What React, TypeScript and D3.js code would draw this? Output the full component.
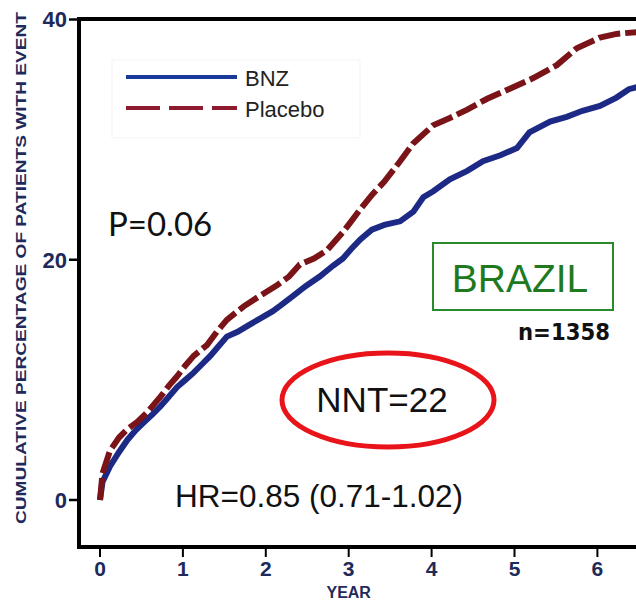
import React from "react";
import * as d3 from "d3";

const bnzYears = [0, 0.03, 0.12, 0.23, 0.33, 0.43, 0.52, 0.63, 0.73, 0.83, 0.93, 1.03, 1.13, 1.23, 1.33, 1.43, 1.53, 1.66, 1.78, 1.93, 2.08, 2.18, 2.33, 2.48, 2.65, 2.81, 2.93, 3.03, 3.14, 3.28, 3.43, 3.62, 3.78, 3.9, 4.02, 4.22, 4.43, 4.62, 4.83, 5.03, 5.18, 5.43, 5.63, 5.82, 6.03, 6.23, 6.38, 6.55];
const bnzValues = [0, 1.5, 2.8, 4.0, 5.0, 5.8, 6.4, 7.1, 7.8, 8.6, 9.4, 10.0, 10.6, 11.3, 12.0, 12.8, 13.6, 14.0, 14.5, 15.1, 15.7, 16.2, 17.0, 17.8, 18.6, 19.5, 20.1, 20.9, 21.7, 22.5, 22.9, 23.2, 24.0, 25.2, 25.7, 26.7, 27.4, 28.2, 28.7, 29.3, 30.6, 31.5, 31.9, 32.4, 32.8, 33.5, 34.2, 34.5];

const placeboYears = [0, 0.03, 0.12, 0.23, 0.33, 0.45, 0.57, 0.73, 0.83, 0.93, 1.03, 1.13, 1.29, 1.41, 1.53, 1.73, 1.93, 2.14, 2.28, 2.41, 2.58, 2.74, 2.93, 3.03, 3.14, 3.28, 3.43, 3.62, 3.78, 4.02, 4.22, 4.43, 4.67, 4.93, 5.22, 5.51, 5.75, 6.03, 6.23, 6.55];
const placeboValues = [0, 2.2, 4.1, 5.2, 5.9, 6.5, 7.3, 8.6, 9.5, 10.3, 11.2, 12.0, 12.9, 14.0, 15.0, 16.1, 17.0, 17.9, 18.6, 19.6, 20.1, 20.8, 22.3, 23.2, 24.2, 25.4, 26.5, 28.2, 29.7, 31.2, 31.8, 32.5, 33.4, 34.2, 35.1, 36.2, 37.6, 38.5, 38.8, 39.0];

const xTicks = [0, 1, 2, 3, 4, 5, 6];
const yTicks = [0, 20, 40];
const seriesNames = ["BNZ", "Placebo"];

const W = 636;
const H = 603;
const axisColor = "#1e2a5a";
const ARIAL = "'Liberation Sans', Arial, sans-serif";

export default function App() {
  const x = d3.scaleLinear().domain([0, 6]).range([100, 597.4]);
  const y = d3.scaleLinear().domain([0, 40]).range([500, 19.5]);
  const line = d3
    .line<[number, number]>()
    .x((d) => x(d[0]))
    .y((d) => y(d[1]))
    .curve(d3.curveLinear);
  const bnz: [number, number][] = bnzYears.map((t, i) => [t, bnzValues[i]]);
  const placebo: [number, number][] = placeboYears.map((t, i) => [t, placeboValues[i]]);

  const axisLeft = 79;
  const axisBottom = 547;
  const frameTop = 19;

  return (
    <svg
      width={W}
      height={H}
      style={{ position: "absolute", left: 0, top: 0, background: "#fff" }}
    >
      <defs>
        <clipPath id="plotClip">
          <rect x={axisLeft} y={0} width={W - axisLeft} height={axisBottom} />
        </clipPath>
      </defs>

      {/* Y axis title */}
      <text
        transform={`translate(26,268) rotate(-90)`}
        textAnchor="middle"
        fontFamily={ARIAL}
        fontWeight="bold"
        fontSize={15}
        fill={axisColor}
        textLength={512}
        lengthAdjust="spacingAndGlyphs"
      >
        CUMULATIVE PERCENTAGE OF PATIENTS WITH EVENT
      </text>

      {/* Frame lines */}
      <line x1={axisLeft} x2={W} y1={frameTop} y2={frameTop} stroke="#000" strokeWidth={4} />
      <line x1={axisLeft} x2={axisLeft} y1={frameTop - 2} y2={axisBottom + 2} stroke="#000" strokeWidth={4} />
      <line x1={axisLeft - 2} x2={W} y1={axisBottom} y2={axisBottom} stroke="#000" strokeWidth={4} />

      {/* Y ticks */}
      {yTicks.map((t) => (
        <g key={`y${t}`}>
          <line x1={69} x2={axisLeft} y1={y(t)} y2={y(t)} stroke="#000" strokeWidth={2.5} />
          <text
            x={67}
            y={y(t)}
            dy="0.36em"
            textAnchor="end"
            fontFamily={ARIAL}
            fontWeight="bold"
            fontSize={22}
            fill={axisColor}
          >
            {t}
          </text>
        </g>
      ))}

      {/* X ticks */}
      {xTicks.map((t) => (
        <g key={`x${t}`}>
          <line x1={x(t)} x2={x(t)} y1={axisBottom} y2={557} stroke="#000" strokeWidth={2} />
          <text
            x={x(t)}
            y={576}
            textAnchor="middle"
            fontFamily={ARIAL}
            fontWeight="bold"
            fontSize={21}
            fill={axisColor}
          >
            {t}
          </text>
        </g>
      ))}
      <text
        x={x(3)}
        y={598}
        textAnchor="middle"
        fontFamily={ARIAL}
        fontWeight="bold"
        fontSize={16}
        fill={axisColor}
      >
        YEAR
      </text>

      {/* Legend */}
      <rect x={112} y={60} width={248} height={78} fill="none" stroke="#f3f3f3" strokeWidth={1} />
      <line x1={126} x2={237} y1={77} y2={77} stroke="#1a3a9a" strokeWidth={4} />
      <text x={245} y={86} fontFamily={ARIAL} fontSize={22} fill="#222">
        {seriesNames[0]}
      </text>
      <line x1={126} x2={237} y1={108} y2={108} stroke="#8e1a2e" strokeWidth={4} strokeDasharray="34,9" />
      <text x={245} y={117} fontFamily={ARIAL} fontSize={22} fill="#222">
        {seriesNames[1]}
      </text>

      {/* Curves */}
      <g clipPath="url(#plotClip)">
        <path d={line(bnz) || ""} fill="none" stroke="#1c2a86" strokeWidth={6} strokeLinejoin="miter" />
        <path
          d={line(placebo) || ""}
          fill="none"
          stroke="#7a1418"
          strokeWidth={6}
          strokeDasharray="22,5"
          strokeLinejoin="miter"
        />
      </g>

      {/* Annotations */}
      <text x={108} y={236} fontFamily="Lato, 'Open Sans', sans-serif" fontSize={33} fill="#111">
        P=0.06
      </text>

      <rect x={433} y={243} width={180} height={67} fill="none" stroke="#2a8a2a" strokeWidth={2} />
      <text
        x={520}
        y={292}
        textAnchor="middle"
        fontFamily={ARIAL}
        fontSize={39}
        fill="#1f7a1f"
      >
        BRAZIL
      </text>
      <text
        x={610}
        y={340}
        textAnchor="end"
        fontFamily="'DejaVu Sans', sans-serif"
        fontWeight="bold"
        fontSize={23}
        fill="#111"
        textLength={92}
        lengthAdjust="spacingAndGlyphs"
      >
        n=1358
      </text>

      <ellipse cx={388} cy={400} rx={106} ry={47} fill="none" stroke="#e8141a" strokeWidth={5} />
      <text
        x={382}
        y={412}
        textAnchor="middle"
        fontFamily={ARIAL}
        fontSize={35}
        fill="#111"
      >
        NNT=22
      </text>

      <text x={175} y={507} fontFamily={ARIAL} fontSize={31.5} fill="#111">
        HR=0.85 (0.71-1.02)
      </text>
    </svg>
  );
}
